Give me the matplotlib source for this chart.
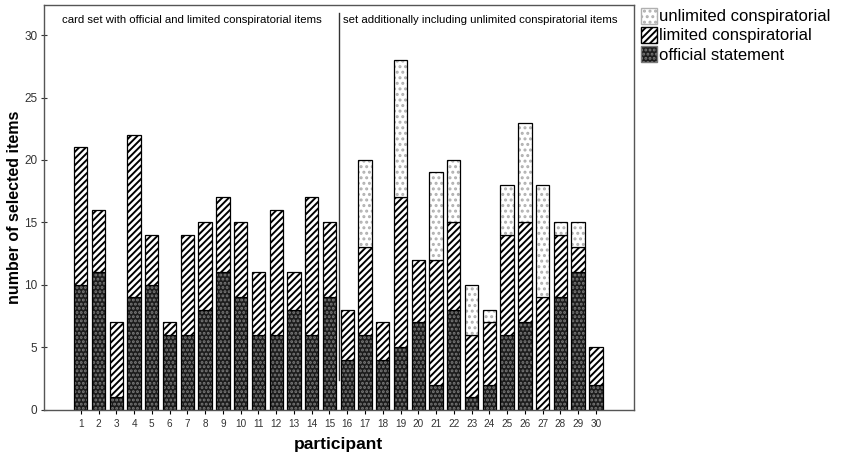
import matplotlib.pyplot as plt
import numpy as np
from matplotlib.patches import Patch

participants = list(range(1, 31))
official = [10, 11, 1, 9, 10, 6, 6, 8, 11, 9, 6, 6, 8, 6, 9,
            4, 6, 4, 5, 7, 2, 8, 1, 2, 6, 7, 0, 9, 11, 2]
limited = [11, 5, 6, 13, 4, 1, 8, 7, 6, 6, 5, 10, 3, 11, 6,
           4, 7, 3, 12, 5, 10, 7, 5, 5, 8, 8, 9, 5, 2, 3]
unlimited = [0, 0, 0, 0, 0, 0, 0, 0, 0, 0, 0, 0, 0, 0, 0,
             0, 7, 0, 11, 0, 7, 5, 4, 1, 4, 8, 9, 1, 2, 0]

left_note = "card set with official and limited conspiratorial items"
right_note = "set additionally including unlimited conspiratorial items"


def draw_layer(ax, x, h, b, face, hatch, hatch_col, width):
    ax.bar(x, h, bottom=b, width=width, color=face, edgecolor=hatch_col,
           hatch=hatch, linewidth=0)
    ax.bar(x, h, bottom=b, width=width, fill=False, edgecolor="black",
           linewidth=0.9)


def main() -> None:
    plt.rcParams["font.family"] = "Liberation Sans"
    plt.rcParams["hatch.linewidth"] = 1.4

    x = np.array(participants)
    off = np.array(official, dtype=float)
    lim = np.array(limited, dtype=float)
    unl = np.array(unlimited, dtype=float)
    w = 0.75

    fig = plt.figure(figsize=(8.43, 4.58), dpi=100)
    ax = fig.add_axes([0.052, 0.105, 0.700, 0.884])

    draw_layer(ax, x, off, 0, "#1c1c1c", "....", "#7a7a7a", w)
    draw_layer(ax, x, lim, off, "white", "/////", "black", w)
    m = unl > 0
    draw_layer(ax, x[m], unl[m], (off + lim)[m], "white", "...", "#b0b0b0", w)

    ax.set_xlim(-1.08, 32.14)
    ax.set_ylim(0, 32.4)
    # divider between the two card sets
    ax.plot([15.53, 15.53], [2.4, 31.8], color="#333333", lw=1.0)

    ax.text(-0.05, 31.2, left_note, fontsize=8.2, va="center", ha="left")
    ax.text(15.75, 31.2, right_note, fontsize=8.2, va="center", ha="left")

    ax.set_xticks(x)
    ax.set_xticklabels([str(p) for p in participants], fontsize=7.2, color="#333333")
    ax.set_yticks(range(0, 31, 5))
    ax.tick_params(axis="y", labelsize=8.5, colors="#333333", length=5, width=0.8,
                   direction="inout", pad=2)
    ax.tick_params(axis="x", length=3, width=0.8)
    for s in ax.spines.values():
        s.set_color("#555555")
        s.set_linewidth(1.0)

    ax.set_xlabel("participant", fontsize=12.5, fontweight="bold", labelpad=6)
    ax.set_ylabel("number of selected items", fontsize=11.5, fontweight="bold",
                  labelpad=2)

    handles = [
        Patch(facecolor="white", edgecolor="#b0b0b0", hatch="...", label="unlimited conspiratorial"),
        Patch(facecolor="white", edgecolor="black", hatch="/////", label="limited conspiratorial"),
        Patch(facecolor="#1c1c1c", edgecolor="#7a7a7a", hatch="....", label="official statement"),
    ]
    fig.legend(handles=handles, loc="upper left", bbox_to_anchor=(0.752, 0.998),
               frameon=False, fontsize=12, handlelength=1.0, handleheight=1.1,
               handletextpad=0.1, labelspacing=0.15, borderaxespad=0)

    fig.savefig("out.png", dpi=100)
    plt.close(fig)


if __name__ == "__main__":
    main()
